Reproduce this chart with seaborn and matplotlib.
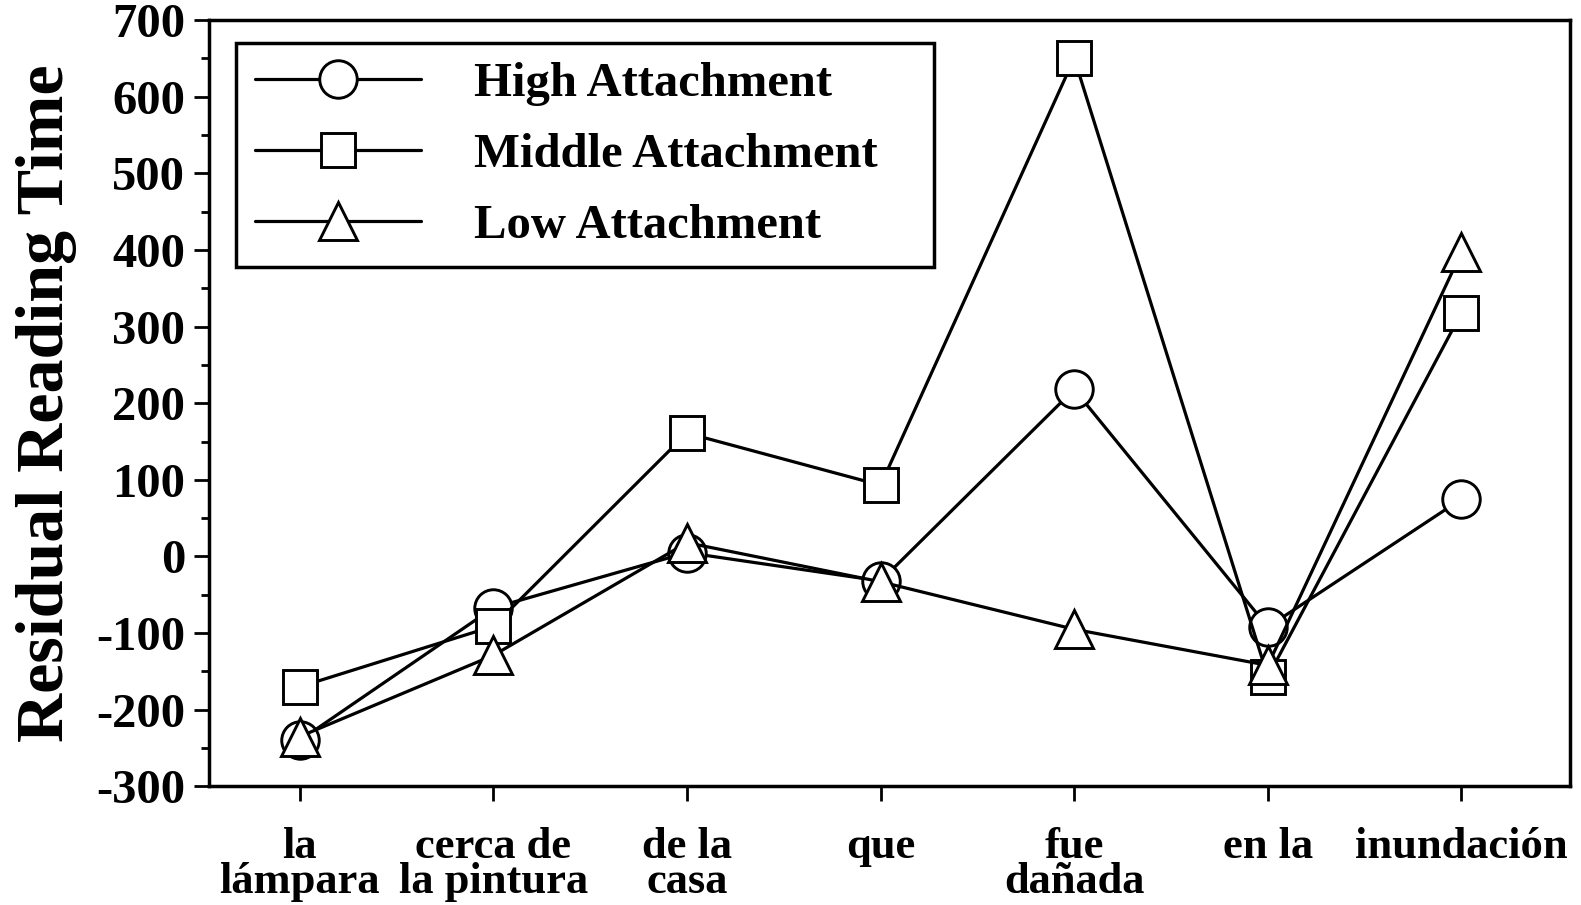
import numpy as np
import pandas as pd
import seaborn as sns
import matplotlib.pyplot as plt
from matplotlib.ticker import MultipleLocator

regions = ['la\nlámpara', 'cerca de\nla pintura', 'de la\ncasa', 'que',
           'fue\ndañada', 'en la', 'inundación']
high = [-240, -67, 5, -32, 218, -92, 75]
middle = [-170, -91, 161, 93, 650, -157, 318]
low = [-235, -129, 18, -33, -95, -142, 397]

sns.set_style('ticks')
plt.rcParams['font.family'] = ['Liberation Serif', 'DejaVu Serif']
plt.rcParams['font.weight'] = 'bold'
plt.rcParams['axes.unicode_minus'] = False
for k in ['text.color', 'axes.labelcolor', 'xtick.color', 'ytick.color',
          'axes.edgecolor']:
    plt.rcParams[k] = 'black'

fig = plt.figure(figsize=(15.81, 9.05), dpi=100)
ax = fig.add_axes([0.132, 0.131, 0.861, 0.847])

pos = np.arange(len(regions))
series = [('High Attachment', high, 'o', 27),
          ('Middle Attachment', middle, 's', 24),
          ('Low Attachment', low, '^', 27)]
for name, vals, mk, ms in series:
    df = pd.DataFrame({'pos': pos, 'val': vals})
    sns.lineplot(data=df, x='pos', y='val', ax=ax, color='black', lw=2.3,
                 marker=mk, markersize=ms, markerfacecolor='white',
                 markeredgecolor='black', markeredgewidth=2.1,
                 label=name + '   ', sort=False)

ax.set_xlim(-0.47, 6.56)
ax.set_ylim(-300, 700)
ax.set_xticks(pos)
ax.set_xticklabels(regions, fontsize=32, fontweight='bold', linespacing=0.85)
ax.yaxis.set_major_locator(MultipleLocator(100))
ax.yaxis.set_minor_locator(MultipleLocator(50))
ax.tick_params(axis='y', which='major', length=11, width=2, labelsize=35, pad=6)
ax.tick_params(axis='y', which='minor', length=6, width=2)
ax.tick_params(axis='x', length=11, width=2, pad=18)
for t in ax.get_yticklabels():
    t.set_fontweight('bold')
for s in ax.spines.values():
    s.set_linewidth(2.5)
    s.set_visible(True)

ax.set_xlabel('')
ax.set_ylabel('Residual Reading Time', fontsize=49, fontweight='bold')
ax.yaxis.set_label_coords(-0.097, 0.5)

leg = ax.legend(loc='upper left', bbox_to_anchor=(0.02, 0.97), fontsize=35,
                frameon=True, fancybox=False, edgecolor='black', framealpha=1,
                handlelength=3.4, handletextpad=1.1, borderpad=0.4,
                labelspacing=0.55, borderaxespad=0)
leg.get_frame().set_linewidth(2.5)
for t in leg.get_texts():
    t.set_fontweight('bold')

fig.savefig('out.png', dpi=100)
